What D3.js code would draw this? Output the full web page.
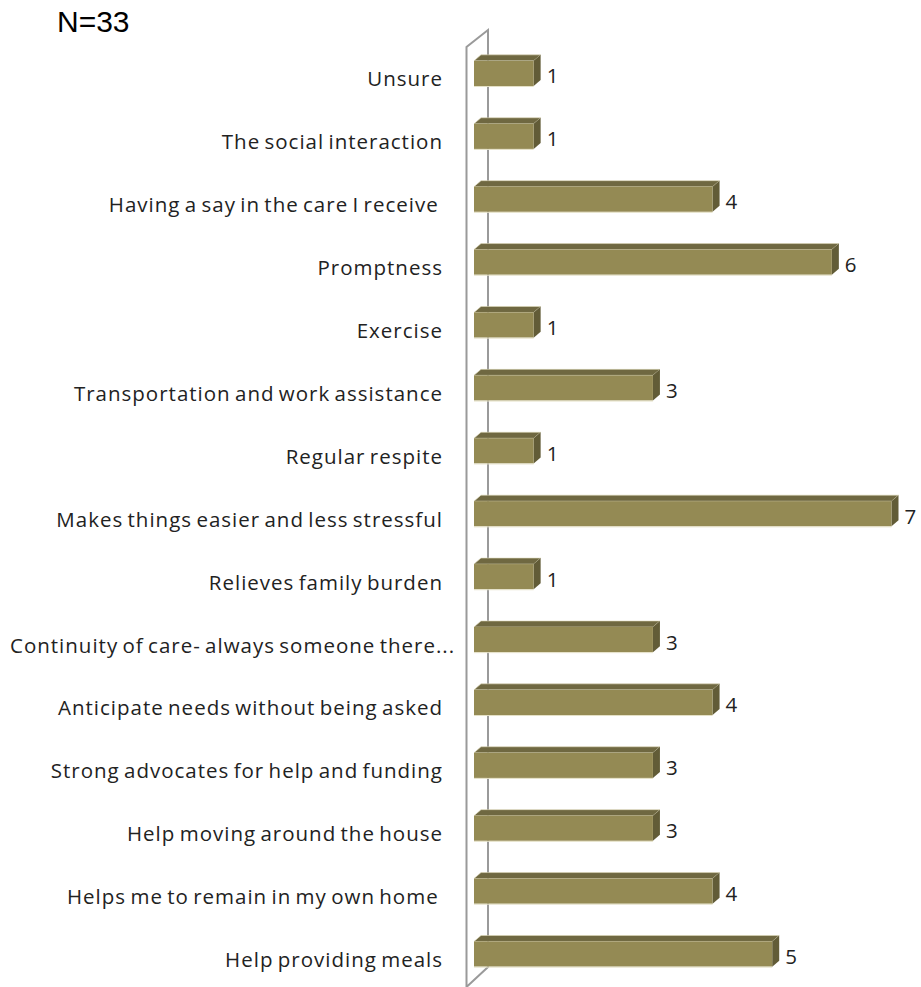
<!DOCTYPE html>
<html>
<head>
<meta charset="utf-8">
<script src="https://cdn.jsdelivr.net/npm/d3@7"></script>
<style>
  html, body { margin: 0; padding: 0; background: #ffffff; }
  svg { display: block; }
  .cat { white-space: pre; }
</style>
</head>
<body>
<svg id="chart" width="921" height="987"></svg>
<script>
// Reasons given, one bar per reason, listed top to bottom
const categories = [
  "Unsure",
  "The social interaction",
  "Having a say in the care I receive ",
  "Promptness",
  "Exercise",
  "Transportation and work assistance",
  "Regular respite",
  "Makes things easier and less stressful",
  "Relieves family burden",
  "Continuity of care- always someone there...",
  "Anticipate needs without being asked",
  "Strong advocates for help and funding",
  "Help moving around the house",
  "Helps me to remain in my own home ",
  "Help providing meals"
];
const counts = [1, 1, 4, 6, 1, 3, 1, 7, 1, 3, 4, 3, 3, 4, 5];
const sampleNote = "N=33";

const svg = d3.select("#chart");
const labelFont = "'Open Sans', Lato, sans-serif";

const x = d3.scaleLinear().domain([0, 7]).range([474, 891.5]);
const y = d3.scaleBand().domain(categories).range([42, 985.5])
  .paddingInner(0.6).paddingOuter(0.3);

// 3-D depth offset of the bars and the back wall
const dx = 7, dy = -6;
const x0 = x(0);

// Back wall drawn as an outlined slab
const wallFront = x0 - 7.5, wallBack = x0 + 14;
svg.append("path")
  .attr("d", `M${wallFront},990 L${wallFront},47 L${wallBack},30 L${wallBack},967 L${wallFront},987`)
  .attr("fill", "none")
  .attr("stroke", "#9a9a9a")
  .attr("stroke-width", 2);

const data = categories.map((c, i) => ({ cat: c, v: counts[i] }));

const bars = svg.append("g").selectAll("g").data(data).join("g");

// top face
bars.append("path")
  .attr("d", d => {
    const yt = y(d.cat), x1 = x(d.v);
    return `M${x0},${yt} L${x0 + dx},${yt + dy} L${x1 + dx},${yt + dy} L${x1},${yt} Z`;
  })
  .attr("fill", "#6f6841")
  .attr("stroke", "#ddd8b8")
  .attr("stroke-width", 0.6);

// end face
bars.append("path")
  .attr("d", d => {
    const yt = y(d.cat), x1 = x(d.v), h = y.bandwidth();
    return `M${x1},${yt} L${x1 + dx},${yt + dy} L${x1 + dx},${yt + h + dy} L${x1},${yt + h} Z`;
  })
  .attr("fill", "#625c37");

// front face
bars.append("rect")
  .attr("x", x0)
  .attr("y", d => y(d.cat))
  .attr("width", d => x(d.v) - x0)
  .attr("height", y.bandwidth())
  .attr("fill", "#948a54");

// light rim along the bottom edge of the front face
bars.append("line")
  .attr("x1", x0)
  .attr("x2", d => x(d.v))
  .attr("y1", d => y(d.cat) + y.bandwidth() + 0.5)
  .attr("y2", d => y(d.cat) + y.bandwidth() + 0.5)
  .attr("stroke", "#e4e0c6")
  .attr("stroke-width", 1);

// value labels
bars.append("text")
  .attr("x", d => x(d.v) + dx + 6)
  .attr("y", d => y(d.cat) + y.bandwidth() / 2 + 10)
  .attr("font-family", labelFont)
  .attr("font-size", 20.5)
  .attr("fill", "#222")
  .text(d => d.v);

// category labels, right aligned against the wall
const labels = svg.append("g").selectAll("text").data(data).join("text")
  .attr("class", "cat")
  .attr("x", 443)
  .attr("y", d => y(d.cat) + y.bandwidth() / 2 + 13)
  .attr("text-anchor", "end")
  .attr("font-family", labelFont)
  .attr("font-size", 20.5)
  .attr("letter-spacing", 1.0)
  .attr("word-spacing", -2)
  .attr("fill", "#222")
  .text(d => d.cat);

// a label too long for the space starts at the left margin instead
labels.each(function () {
  const w = this.getComputedTextLength();
  if (443 - w < 10) d3.select(this).attr("x", 10).attr("text-anchor", "start");
});

svg.append("text")
  .attr("x", 57)
  .attr("y", 32)
  .attr("font-family", "'Liberation Sans', Arial, sans-serif")
  .attr("font-size", 30)
  .attr("fill", "#000")
  .text(sampleNote);
</script>
</body>
</html>
